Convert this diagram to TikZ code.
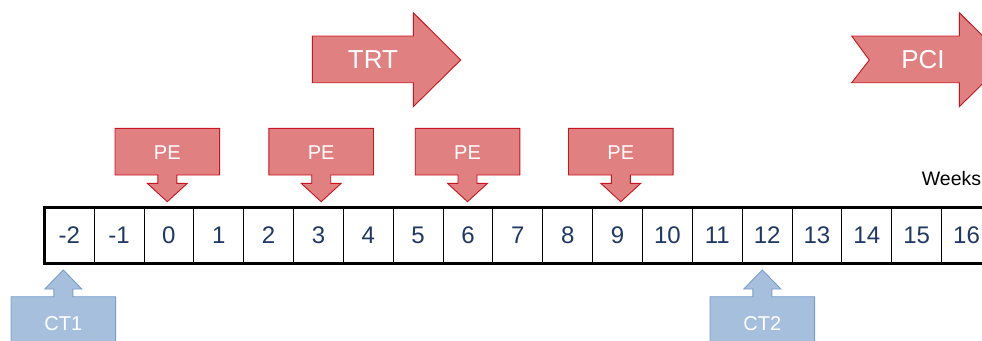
\documentclass[tikz,border=0pt]{standalone}
\usepackage{fontspec}
\setmainfont{Liberation Sans}
\definecolor{redfill}{RGB}{224,128,129}
\definecolor{redline}{RGB}{200,20,30}
\definecolor{bluefill}{RGB}{166,191,221}
\definecolor{blueline}{RGB}{120,158,205}
\definecolor{navy}{RGB}{31,56,100}
\tikzset{
  redarrow/.style={fill=redfill, draw=redline, line width=0.9pt, line join=miter},
  bluearrow/.style={fill=bluefill, draw=blueline, line width=0.9pt, line join=miter},
  bigtext/.style={text=white, font=\fontsize{26}{30}\selectfont, inner sep=0pt},
  calltext/.style={text=white, font=\fontsize{20}{24}\selectfont, inner sep=0pt},
  weeknum/.style={text=navy, font=\fontsize{24}{28}\selectfont, inner sep=0pt},
  divider/.style={draw=black, line width=1pt},
}
\begin{document}
\begin{tikzpicture}[x=1pt, y=-1pt]
\useasboundingbox (0,0) rectangle (982,340);
\clip (0,0) rectangle (982,340);

% TRT block arrow
\draw[redarrow] (312.3,36) -- (413.3,36) -- (413.3,12.7) -- (460.7,60)
  -- (413.3,106.7) -- (413.3,82.7) -- (312.3,82.7) -- cycle;
\node[bigtext] (trt) at (373,60) {TRT};

% PCI chevron arrow
\draw[redarrow] (851.7,36) -- (959.3,36) -- (959.3,12.7) -- (1006.7,60)
  -- (959.3,106.7) -- (959.3,82.7) -- (851.7,82.7) -- (869.3,60) -- cycle;
\node[bigtext] (pci) at (923,60) {PCI};

% Down-pointing callouts (PE)
\foreach \cx/\nm in {167.3/pea, 321.2/peb, 467.5/pec, 620.8/ped} {
  \draw[redarrow] (\cx-52.3,128.3) -- (\cx+52.3,128.3) -- (\cx+52.3,175)
    -- (\cx+9.5,175) -- (\cx+9.5,183.3) -- (\cx+20,183.3) -- (\cx,201.7)
    -- (\cx-20,183.3) -- (\cx-9.5,183.3) -- (\cx-9.5,175) -- (\cx-52.3,175) -- cycle;
  \node[calltext] (\nm) at (\cx,152.5) {PE};
}

% Up-pointing callouts (CT)
\foreach \cx/\nm/\lb in {63.3/cta/CT1, 762.3/ctb/CT2} {
  \draw[bluearrow] (\cx-52.3,360) -- (\cx-52.3,296.7) -- (\cx-9.5,296.7)
    -- (\cx-9.5,289) -- (\cx-18.5,289) -- (\cx,270) -- (\cx+18.5,289)
    -- (\cx+9.5,289) -- (\cx+9.5,296.7) -- (\cx+52.3,296.7) -- (\cx+52.3,360);
  \node[calltext] (\nm) at (\cx,323.3) {\lb};
}

% Week label
\node[anchor=base west, inner sep=0pt, font=\fontsize{19.5}{23}\selectfont] (weeks) at (921.7,185) {Weeks};

% Timeline strip
\foreach \k in {1,...,19} {
  \draw[divider] (44.3+49.85*\k,207) -- (44.3+49.85*\k,263);
}
\foreach \n [count=\i from 0] in {-2,-1,0,1,2,3,4,5,6,7,8,9,10,11,12,13,14,15,16,17} {
  \node[weeknum] (w\i) at (44.3+49.85*\i+24.9,235.5) {\n};
}
\draw[black, line width=3pt] (44.3,207) rectangle (1100,263);
\end{tikzpicture}
\end{document}
